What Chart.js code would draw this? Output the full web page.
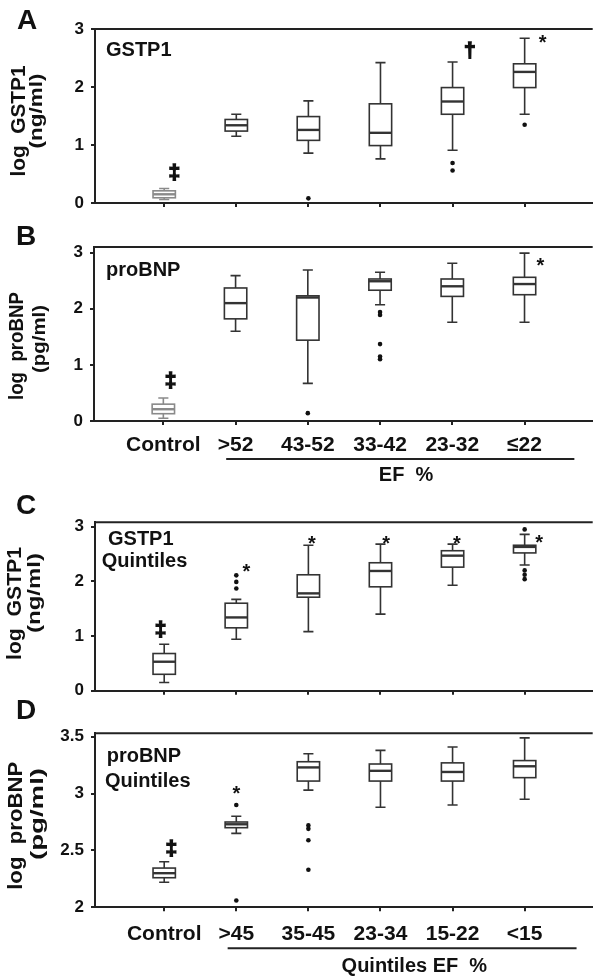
<!DOCTYPE html>
<html>
<head>
<meta charset="utf-8">
<script src="https://cdn.jsdelivr.net/npm/chart.js@4.4.1/dist/chart.umd.min.js"></script>
<style>
  body { margin: 0; background: #fff; }
  #wrap { position: relative; width: 594px; height: 977px; overflow: hidden; font-family: "Liberation Sans", Arial, sans-serif; }
  canvas { position: absolute; left: 0; }
  .letter { position: absolute; font-weight: bold; font-size: 28px; line-height: 1; color: #111; }
</style>
</head>
<body>
<div id="wrap">
  <canvas id="chartA" width="594" height="225" style="top:0px"></canvas>
  <canvas id="chartB" width="594" height="260" style="top:225px"></canvas>
  <canvas id="chartC" width="594" height="235" style="top:485px"></canvas>
  <canvas id="chartD" width="594" height="257" style="top:720px"></canvas>
  <div class="letter" style="left:17px;top:6px">A</div>
  <div class="letter" style="left:16px;top:222px">B</div>
  <div class="letter" style="left:16px;top:491px">C</div>
  <div class="letter" style="left:16px;top:696px">D</div>
</div>
<script>
const efLabels = ['Control', '>52', '43-52', '33-42', '23-32', '≤22'];
const quintileLabels = ['Control', '>45', '35-45', '23-34', '15-22', '<15'];
const logTicks = [0, 1, 2, 3];
const bnpQuintileTicks = [2, 2.5, 3, 3.5];

// each box: [lower whisker, Q1, median, Q3, upper whisker]
const gstp1Boxes = [
  [0.06, 0.09, 0.15, 0.21, 0.25],
  [1.15, 1.24, 1.34, 1.44, 1.53],
  [0.86, 1.08, 1.26, 1.49, 1.76],
  [0.76, 0.99, 1.21, 1.71, 2.42],
  [0.91, 1.53, 1.75, 1.99, 2.43],
  [1.53, 1.99, 2.26, 2.40, 2.84]
];
const gstp1Outliers = [[2, 0.08], [4, 0.69], [4, 0.56], [5, 1.35]];
const gstp1Marks = [[0.14, 0.51, '‡'], [4.24, 2.61, '†'], [5.25, 2.83, '*']];

const bnpBoxes = [
  [0.05, 0.13, 0.21, 0.30, 0.41],
  [1.60, 1.82, 2.10, 2.37, 2.59],
  [0.67, 1.44, 2.20, 2.23, 2.69],
  [2.07, 2.33, 2.49, 2.53, 2.65],
  [1.76, 2.22, 2.40, 2.53, 2.81],
  [1.76, 2.25, 2.44, 2.56, 2.99]
];
const bnpOutliers = [[2, 0.14], [3, 1.94], [3, 1.89], [3, 1.37], [3, 1.15], [3, 1.10]];
const bnpMarks = [[0.1, 0.71, '‡'], [5.22, 2.83, '*']];

const gstp1QBoxes = [
  [0.15, 0.30, 0.53, 0.68, 0.85],
  [0.94, 1.15, 1.34, 1.60, 1.67],
  [1.08, 1.71, 1.78, 2.12, 2.66],
  [1.40, 1.90, 2.19, 2.34, 2.68],
  [1.93, 2.26, 2.47, 2.56, 2.68],
  [2.30, 2.52, 2.63, 2.66, 2.86]
];
const gstp1QOutliers = [[1, 2.11], [1, 1.99], [1, 1.87], [5, 2.95], [5, 2.20], [5, 2.12], [5, 2.04]];
const gstp1QMarks = [[-0.05, 1.11, '‡'], [1.14, 2.24, '*'], [2.05, 2.76, '*'], [3.08, 2.76, '*'], [4.06, 2.76, '*'], [5.2, 2.77, '*']];

const bnpQBoxes = [
  [2.22, 2.26, 2.30, 2.345, 2.40],
  [2.65, 2.70, 2.73, 2.75, 2.80],
  [3.03, 3.11, 3.23, 3.28, 3.35],
  [2.88, 3.11, 3.20, 3.26, 3.38],
  [2.90, 3.11, 3.19, 3.27, 3.41],
  [2.95, 3.14, 3.24, 3.29, 3.49]
];
const bnpQOutliers = [[1, 2.90], [1, 2.06], [2, 2.72], [2, 2.69], [2, 2.59], [2, 2.33]];
const bnpQMarks = [[0.1, 2.51, '‡'], [1.0, 3.03, '*']];

const FONT = '"Liberation Sans", Arial, sans-serif';
Chart.defaults.font.family = FONT;

// box-and-whisker drawing, frame top, symbols and titles
const decor = {
  id: 'decor',
  beforeDatasetsDraw(chart, args, o) {
    const { ctx, chartArea: area, scales: { x, y } } = chart;
    ctx.save();
    ctx.strokeStyle = '#222';
    ctx.lineWidth = 2;
    ctx.beginPath();
    ctx.moveTo(area.left - 1, area.top);
    ctx.lineTo(area.right + 1, area.top);
    ctx.stroke();

    o.boxes.forEach((b, i) => {
      const cx = x.getPixelForValue(i);
      const l = x.getPixelForValue(i - 0.155), r = x.getPixelForValue(i + 0.155);
      const cl = x.getPixelForValue(i - 0.07), cr = x.getPixelForValue(i + 0.07);
      const [lo, q1, med, q3, hi] = b.map(v => y.getPixelForValue(v));
      ctx.strokeStyle = (i === 0 && o.paleControl) ? '#8a8a8a' : '#333';
      ctx.lineWidth = 1.6;
      ctx.beginPath();
      ctx.moveTo(cx, q3); ctx.lineTo(cx, hi);
      ctx.moveTo(cx, q1); ctx.lineTo(cx, lo);
      ctx.moveTo(cl, hi); ctx.lineTo(cr, hi);
      ctx.moveTo(cl, lo); ctx.lineTo(cr, lo);
      ctx.stroke();
      ctx.fillStyle = '#fff';
      ctx.fillRect(l, q3, r - l, q1 - q3);
      ctx.strokeRect(l, q3, r - l, q1 - q3);
      ctx.lineWidth = 2.4;
      ctx.beginPath();
      ctx.moveTo(l, med); ctx.lineTo(r, med);
      ctx.stroke();
    });
    ctx.restore();
  },
  afterDraw(chart, args, o) {
    const { ctx, chartArea: area, scales: { x, y } } = chart;
    ctx.save();
    ctx.fillStyle = '#111';
    ctx.strokeStyle = '#111';
    ctx.textAlign = 'center';
    ctx.textBaseline = 'middle';

    o.marks.forEach(([v, val, sym]) => {
      const size = sym === '*' ? 20 : 21;
      ctx.font = 'bold ' + size + 'px ' + FONT;
      const shift = sym === '*' ? size * 0.22 : 0;
      const px = x.getPixelForValue(v), py = y.getPixelForValue(val) + shift;
      ctx.fillText(sym, px, py);
      if (sym !== '*') {
        ctx.lineWidth = 1.4;
        ctx.strokeText(sym, px, py);
      }
    });

    // labels inside the plot
    ctx.textAlign = 'left';
    o.notes.forEach(([text, px, py]) => {
      ctx.font = 'bold 20px ' + FONT;
      ctx.fillText(text, px, py);
    });

    // two-line rotated y title, stretched to the printed length
    ctx.textAlign = 'center';
    o.yTitle.forEach(([text, size, px, py, len]) => {
      ctx.save();
      ctx.font = 'bold ' + size + 'px ' + FONT;
      const w = ctx.measureText(text).width;
      ctx.translate(px, py);
      ctx.rotate(-Math.PI / 2);
      ctx.scale(len / w, 1);
      ctx.fillText(text, 0, 0);
      ctx.restore();
    });

    // grouping underline under the EF categories
    if (o.group) {
      const g = o.group;
      const gy = area.bottom + g.lineDy;
      ctx.strokeStyle = '#222';
      ctx.lineWidth = 2;
      ctx.beginPath();
      ctx.moveTo(x.getPixelForValue(g.from), gy);
      ctx.lineTo(x.getPixelForValue(g.to), gy);
      ctx.stroke();
      ctx.textAlign = 'center';
      ctx.font = 'bold 20px ' + FONT;
      ctx.fillText(g.title, x.getPixelForValue(g.titleAt), area.bottom + g.titleDy);
    }
    ctx.restore();
  }
};

function panel(id, o) {
  return new Chart(document.getElementById(id), {
    type: 'scatter',
    data: {
      datasets: [{
        data: o.outliers.map(p => ({ x: p[0], y: p[1] })),
        pointRadius: 2.3,
        pointHoverRadius: 2.3,
        backgroundColor: '#111',
        borderWidth: 0
      }]
    },
    options: {
      responsive: false,
      animation: false,
      layout: { padding: { top: o.top, right: 1, left: 0, bottom: 0 } },
      plugins: { legend: { display: false }, tooltip: { enabled: false }, decor: o },
      scales: {
        x: {
          type: 'linear',
          min: -0.96,
          max: 5.93,
          afterBuildTicks: s => { s.ticks = o.labels.map((l, i) => ({ value: i })); },
          afterFit: s => { s.height = o.xHeight; s.paddingLeft = 0; s.paddingRight = 0; },
          ticks: {
            display: o.showLabels,
            callback: v => o.labels[v],
            autoSkip: false,
            maxRotation: 0,
            padding: o.labelPad,
            color: '#111',
            font: { size: 21, weight: 'bold' }
          },
          grid: { drawOnChartArea: false, tickLength: 4, color: '#222', lineWidth: 2 },
          border: { color: '#222', width: 2 }
        },
        y: {
          min: o.yMin,
          max: o.yMax,
          afterBuildTicks: s => { s.ticks = o.yTicks.map(v => ({ value: v })); },
          afterFit: s => { s.width = o.axisLeft; s.paddingTop = 0; s.paddingBottom = 0; },
          ticks: {
            callback: v => v,
            padding: 7,
            color: '#111',
            font: { size: 17, weight: 'bold' }
          },
          grid: { drawOnChartArea: false, tickLength: 4, color: '#222', lineWidth: 2 },
          border: { color: '#222', width: 2 }
        }
      }
    },
    plugins: [decor]
  });
}

panel('chartA', {
  labels: efLabels, showLabels: false, boxes: gstp1Boxes, outliers: gstp1Outliers, marks: gstp1Marks,
  yTicks: logTicks, yMin: 0, yMax: 3, top: 29, xHeight: 22, axisLeft: 95, labelPad: 8, paleControl: true,
  notes: [['GSTP1', 106, 50]],
  yTitle: [['log  GSTP1', 20, 19, 121, 111], ['(ng/ml)', 18, 37.5, 111, 75]]
});

panel('chartB', {
  labels: efLabels, showLabels: true, boxes: bnpBoxes, outliers: bnpOutliers, marks: bnpMarks,
  yTicks: logTicks, yMin: 0, yMax: 3.1, top: 22, xHeight: 64, axisLeft: 94, labelPad: 8, paleControl: true,
  notes: [['proBNP', 106, 45]],
  yTitle: [['log  proBNP', 20, 17.5, 121, 108], ['(pg/ml)', 18, 40, 114, 68]],
  group: { from: 0.87, to: 5.69, title: 'EF  %', titleAt: 3.36, lineDy: 38, titleDy: 54 }
});

panel('chartC', {
  labels: quintileLabels, showLabels: false, boxes: gstp1QBoxes, outliers: gstp1QOutliers, marks: gstp1QMarks,
  yTicks: logTicks, yMin: 0, yMax: 3.08, top: 37.3, xHeight: 29.3, axisLeft: 95, labelPad: 8, paleControl: false,
  notes: [['GSTP1', 108, 54], ['Quintiles', 101.7, 76]],
  yTitle: [['log  GSTP1', 20, 15.5, 118.5, 113], ['(ng/ml)', 18, 35.5, 108, 80]]
});

panel('chartD', {
  labels: quintileLabels, showLabels: true, boxes: bnpQBoxes, outliers: bnpQOutliers, marks: bnpQMarks,
  yTicks: bnpQuintileTicks, yMin: 2, yMax: 3.53, top: 13.3, xHeight: 69.7, axisLeft: 95, labelPad: 10, paleControl: false,
  notes: [['proBNP', 106.7, 36], ['Quintiles', 105, 61]],
  yTitle: [['log  proBNP', 21, 16.7, 105.8, 128], ['(pg/ml)', 19, 38, 94, 92]],
  group: { from: 0.88, to: 5.72, title: 'Quintiles EF  %', titleAt: 3.47, lineDy: 41, titleDy: 59.4 }
});
</script>
</body>
</html>
